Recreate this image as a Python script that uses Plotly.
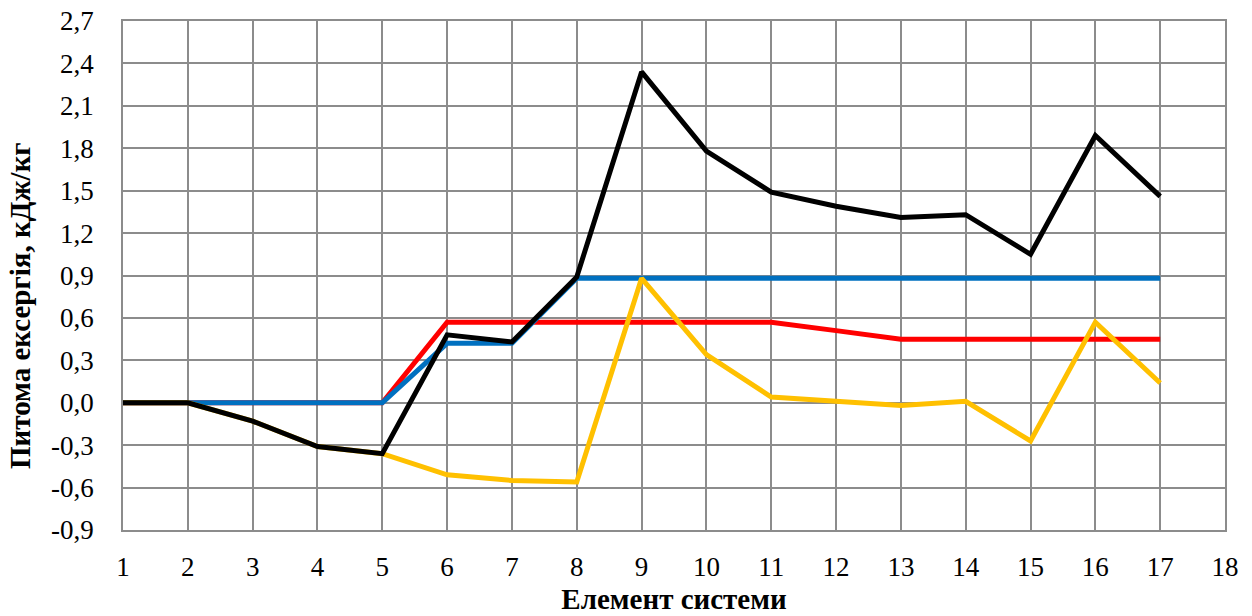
import plotly.graph_objects as go

elements = list(range(1, 18))
black = [0.0, 0.0, -0.13, -0.31, -0.36, 0.48, 0.43, 0.89, 2.34, 1.78, 1.49, 1.39, 1.31, 1.33, 1.05, 1.89, 1.46]
blue = [0.0, 0.0, 0.0, 0.0, 0.0, 0.42, 0.42, 0.88, 0.88, 0.88, 0.88, 0.88, 0.88, 0.88, 0.88, 0.88, 0.88]
red = [0.0, 0.0, 0.0, 0.0, 0.0, 0.57, 0.57, 0.57, 0.57, 0.57, 0.57, 0.51, 0.45, 0.45, 0.45, 0.45, 0.45]
yellow = [0.0, 0.0, -0.13, -0.31, -0.36, -0.51, -0.55, -0.56, 0.88, 0.34, 0.04, 0.01, -0.02, 0.01, -0.27, 0.57, 0.14]

y_ticks = [-0.9, -0.6, -0.3, 0.0, 0.3, 0.6, 0.9, 1.2, 1.5, 1.8, 2.1, 2.4, 2.7]
y_labels = ["-0,9", "-0,6", "-0,3", "0,0", "0,3", "0,6", "0,9", "1,2", "1,5", "1,8", "2,1", "2,4", "2,7"]
x_ticks = list(range(1, 19))

fig = go.Figure()
for vals, col in [(red, "#FF0000"), (blue, "#0070C0"), (yellow, "#FFC000"), (black, "#000000")]:
    fig.add_trace(go.Scatter(x=elements, y=vals, mode="lines",
                             line=dict(color=col, width=5), showlegend=False))

grid = "#8c8c8c"
fig.update_layout(
    width=1252, height=616,
    margin=dict(l=123, r=27, t=21, b=86, autoexpand=False),
    paper_bgcolor="white", plot_bgcolor="white",
    font=dict(family="Liberation Serif, Times New Roman, serif", size=28, color="black"),
    xaxis=dict(range=[1, 18], tickvals=x_ticks, ticktext=[str(v) for v in x_ticks],
               showgrid=True, gridcolor=grid, gridwidth=1.5, zeroline=False,
               showline=True, linecolor=grid, linewidth=1.5, mirror=True,
               ticks="", ticklabelstandoff=12, automargin=False,
               tickfont=dict(size=27),
               title=dict(text="<b>Елемент системи</b>", font=dict(size=29), standoff=8)),
    yaxis=dict(range=[-0.9, 2.7], tickvals=y_ticks, ticktext=y_labels,
               showgrid=True, gridcolor=grid, gridwidth=1.5, zeroline=False,
               showline=True, linecolor=grid, linewidth=1.5, mirror=True,
               ticks="", ticklabelstandoff=22, automargin=False,
               tickfont=dict(size=27)),
    annotations=[dict(text="<b>Питома ексергія, кДж/кг</b>", textangle=-90,
                      xref="paper", yref="paper", x=-0.0935, y=0.442,
                      xanchor="center", yanchor="middle", showarrow=False,
                      font=dict(size=29))],
)
fig.write_html("out.html", config={"displayModeBar": False},
               post_script="document.body.style.margin='0';document.body.style.overflow='hidden';")
